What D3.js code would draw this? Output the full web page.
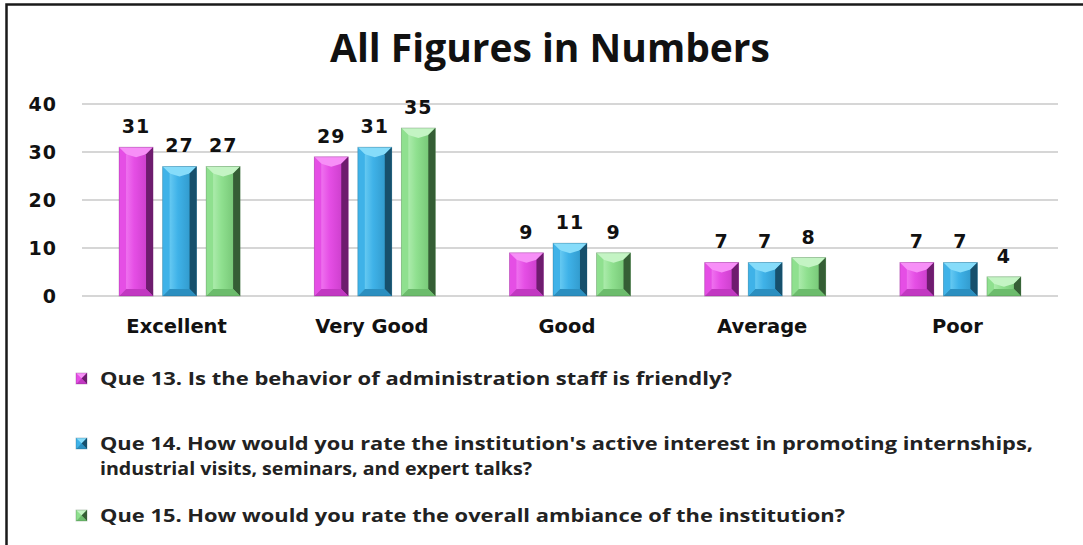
<!DOCTYPE html>
<html><head><meta charset="utf-8">
<script src="https://cdn.jsdelivr.net/npm/d3@7"></script>
<style>
html,body{margin:0;padding:0;background:#fff;}
svg{display:block;}
</style></head>
<body>
<svg id="chart" width="1083" height="545"></svg>
<script>
const title = "All Figures in Numbers";
const categories = ["Excellent", "Very Good", "Good", "Average", "Poor"];
const seriesNames = [
  "Que 13. Is the behavior of administration staff is friendly?",
  "Que 14. How would you rate the institution's active interest in promoting internships,|industrial visits, seminars, and expert talks?",
  "Que 15. How would you rate the overall ambiance of the institution?"
];
const que13 = [31, 29, 9, 7, 7];
const que14 = [27, 31, 11, 7, 7];
const que15 = [27, 35, 9, 8, 4];
const yTicks = [0, 10, 20, 30, 40];

const seriesValues = [que13, que14, que15];
const palette = [
  {base:"#e54ee5", light:"#f78ff7", dark:"#6e1c6e", mid:"#c238c2"},
  {base:"#3fb2e8", light:"#86dcfa", dark:"#17506c", mid:"#2b8fc0"},
  {base:"#8fe08f", light:"#c4f4c4", dark:"#355e35", mid:"#6cbc6c"}
];

const svg = d3.select("#chart");
const m = {left:82, right:1058, top:104, bottom:296};

// frame
svg.append("rect").attr("x",6.5).attr("y",4.5).attr("width",1200).attr("height",700)
  .attr("fill","none").attr("stroke","#1a1a1a").attr("stroke-width",2.5);

const defs = svg.append("defs");
palette.forEach((p,i)=>{
  const g = defs.append("linearGradient").attr("id","face"+i).attr("x1","0").attr("x2","1").attr("y1","0").attr("y2","0");
  g.append("stop").attr("offset","0%").attr("stop-color",p.light);
  g.append("stop").attr("offset","45%").attr("stop-color",p.base);
  g.append("stop").attr("offset","100%").attr("stop-color",p.mid);
});

function fitWidth(sel, target){
  const node = sel.node();
  const w = node.getComputedTextLength();
  const fs = parseFloat(sel.attr("font-size"));
  if (w > 0) sel.attr("font-size", fs*target/w);
}

const t = svg.append("text").attr("x",550).attr("y",62).attr("text-anchor","middle")
  .attr("font-family","'Open Sans', Lato, sans-serif").attr("font-weight","bold")
  .attr("font-size",34).attr("fill","#111").text(title);
fitWidth(t, 440);

const x = d3.scaleBand().domain(categories).range([m.left, m.right]);
const groupW = x.bandwidth()*0.62;
const xs = d3.scaleBand().domain([0,1,2]).range([0, groupW]).paddingInner(0.22);
const y = d3.scaleLinear().domain([0,40]).range([m.bottom, m.top]);

svg.append("g").selectAll("line").data(yTicks).join("line")
  .attr("x1",m.left).attr("x2",m.right)
  .attr("y1",d=>y(d)).attr("y2",d=>y(d))
  .attr("stroke","#d6d6d6").attr("stroke-width",2);

svg.append("g").selectAll("text").data(yTicks).join("text")
  .attr("x",57).attr("y",d=>y(d)).attr("dy","0.36em").attr("text-anchor","end")
  .attr("font-family","'DejaVu Sans', sans-serif").attr("font-weight","bold")
  .attr("font-size",19).attr("letter-spacing",1).attr("fill","#111").text(d=>d);

svg.append("g").selectAll("text").data(categories).join("text")
  .attr("x",d=>x(d)+x.bandwidth()/2 - 3).attr("y",333).attr("text-anchor","middle")
  .attr("font-family","'DejaVu Sans', sans-serif").attr("font-weight","bold")
  .attr("font-size",19.5).attr("fill","#111").text(d=>d);

function bevelBar(g, bx, by, bw, bh, p, i){
  const b = Math.min(7, bh/2, bw/2);
  g.append("rect").attr("x",bx).attr("y",by).attr("width",bw).attr("height",bh).attr("fill","url(#face"+i+")");
  const poly = (pts, fill)=> g.append("polygon").attr("points",pts.map(q=>q.join(",")).join(" ")).attr("fill",fill);
  poly([[bx,by],[bx+bw,by],[bx+bw-b,by+b],[bx+bw/2,by+b+3],[bx+b,by+b]], p.light);
  poly([[bx,by],[bx+b,by+b],[bx+b,by+bh-b],[bx,by+bh]], p.base);
  poly([[bx+bw,by],[bx+bw-b,by+b],[bx+bw-b,by+bh-b],[bx+bw,by+bh]], p.dark);
  poly([[bx,by+bh],[bx+b,by+bh-b],[bx+bw-b,by+bh-b],[bx+bw,by+bh]], p.mid);
  g.append("rect").attr("x",bx).attr("y",by).attr("width",bw).attr("height",bh)
    .attr("fill","none").attr("stroke",p.dark).attr("stroke-opacity",0.35).attr("stroke-width",0.8);
}

const bars = svg.append("g");
const labels = svg.append("g");
seriesValues.forEach((vals,i)=>{
  vals.forEach((v,j)=>{
    const cat = categories[j];
    const bx = x(cat) + (x.bandwidth()-groupW)/2 + xs(i);
    const bw = xs.bandwidth();
    bevelBar(bars, bx, y(v), bw, y(0)-y(v), palette[i], i);
    labels.append("text").attr("x",bx+bw/2).attr("y",y(v)-14).attr("text-anchor","middle")
      .attr("font-family","'DejaVu Sans', sans-serif").attr("font-weight","bold")
      .attr("font-size",19).attr("letter-spacing",1).attr("fill","#111").text(v);
  });
});

// legend
const legY = [385, 450, 522];
const legendTargets = [[632],[933, 432],[745]];
const leg = svg.append("g");
seriesNames.forEach((name,i)=>{
  bevelBar(leg, 76, legY[i]-12, 11, 11, palette[i], i);
  const lines = name.split("|");
  lines.forEach((ln,k)=>{
    const tx = leg.append("text").attr("x",100).attr("y",legY[i]+k*25)
      .attr("font-family","'Open Sans', sans-serif").attr("font-weight","bold")
      .attr("font-size",18).attr("fill","#222").text(ln);
    tx.attr("textLength", legendTargets[i][k]).attr("lengthAdjust","spacingAndGlyphs");
  });
});
</script>
</body></html>
